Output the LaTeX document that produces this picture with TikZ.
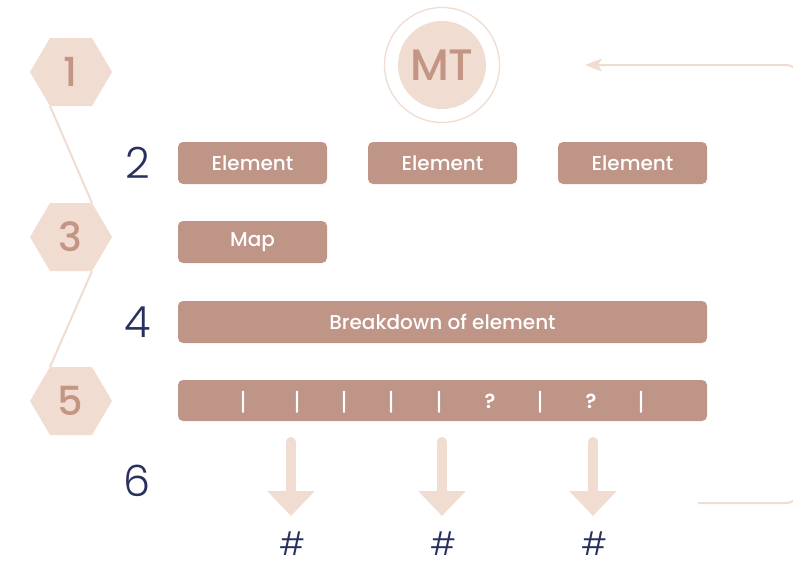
\documentclass[tikz,border=0pt]{standalone}
\usepackage{fontspec}
\setmainfont{Poppins}
\newfontfamily\lightfont{Poppins Light}
\newfontfamily\medfont{Poppins Medium}
\newfontfamily\semifont{Poppins SemiBold}
\usetikzlibrary{arrows.meta}
\definecolor{hexfill}{HTML}{F0DCD1}
\definecolor{hextext}{HTML}{C39584}
\definecolor{boxfill}{HTML}{BF9587}
\definecolor{navy}{HTML}{28305E}
\begin{document}
\begin{tikzpicture}[x=1pt,y=-1pt,
  box/.style={fill=boxfill, rounded corners=5pt, inner sep=0pt, text=white,
    minimum height=42pt, font=\medfont\fontsize{20}{24}\selectfont},
  hexshape/.style={fill=hexfill},
  hexnum/.style={text=hextext, inner sep=0pt, font=\medfont\fontsize{40}{48}\selectfont},
  stepnum/.style={text=navy, inner sep=0pt, font=\lightfont\fontsize{43}{50}\selectfont},
  hashnum/.style={text=navy, inner sep=0pt, font=\lightfont\fontsize{32}{38}\selectfont},
  barmark/.style={text=white, inner sep=0pt, font=\fontsize{24}{28}\selectfont},
  qmark/.style={text=white, inner sep=0pt, font=\semifont\fontsize{20}{24}\selectfont},
  link/.style={draw=hexfill, line width=2pt},
  downarrow/.style={draw=hexfill, line width=10pt, line cap=round, -{Triangle[length=25pt,width=46pt]}},
  loop/.style={draw=hexfill, line width=2pt, rounded corners=14pt, -{Stealth[length=17pt,width=13pt,inset=4pt]}}
]
\useasboundingbox (0,0) rectangle (793,568);

% hexagons
\foreach \n/\y in {1/72,3/237,5/401}{
  \fill[hexshape] (30,\y) -- (50,\y-34) -- (92,\y-34) -- (112,\y) -- (92,\y+34) -- (50,\y+34) -- cycle;
}
\node[hexnum] (h1) at (70,72) {1};
\node[hexnum] (h3) at (70,237) {3};
\node[hexnum] (h5) at (70,401) {5};
\coordinate (h1bl) at (50,106);
\coordinate (h3tr) at (92,203);
\coordinate (h3br) at (92,271);
\coordinate (h5tl) at (50,367);
\draw[link] (h1bl) -- (h3tr);
\draw[link] (h3br) -- (h5tl);

% MT circle
\draw[hexfill, line width=1.3pt] (442,65) circle (57.5pt);
\fill[hexfill] (442,65) circle (44pt);
\node[hexnum, font=\medfont\fontsize{44}{50}\selectfont] (mt) at (442,65) {MT};

% step numbers
\node[stepnum] (s2) at (138,163) {2};
\node[stepnum] (s4) at (138,322) {4};
\node[stepnum] (s6) at (137,481) {6};

% boxes
\node[box, minimum width=149pt] (e1) at (252.5,163) {Element};
\node[box, minimum width=149pt] (e2) at (442.5,163) {Element};
\node[box, minimum width=149pt] (e3) at (632.5,163) {Element};
\node[box, minimum width=149pt] (map) at (252.5,242) {Map};
\node[box, minimum width=529pt] (bd) at (442.5,322) {Breakdown of element};
\node[box, minimum width=529pt, minimum height=41pt] (bar) at (442.5,400.5) {};

% bar marks
\foreach \x [count=\i] in {243,297,344,391,439,540,641}{
  \node[barmark] (b\i) at (\x,402) {|};
}
\node[qmark] (q1) at (490,401) {?};
\node[qmark] (q2) at (591,401) {?};

% down arrows and hashes
\foreach \x [count=\i] in {291,442,593}{
  \coordinate (a\i) at (\x,442);
  \node[hashnum] (hash\i) at (\x+1,544) {\#};
  \coordinate (t\i) at (\x,516);
  \draw[downarrow] (a\i) -- (t\i);
}

% loop connector (runs past the right edge)
\begin{scope}
\clip (0,0) rectangle (793,568);
\coordinate (lstart) at (698,503);
\coordinate (lc1) at (800,503);
\coordinate (lc2) at (800,65);
\coordinate (lend) at (585,65);
\draw[loop] (lstart) -- (lc1) -- (lc2) -- (lend);
\end{scope}
\end{tikzpicture}
\end{document}
